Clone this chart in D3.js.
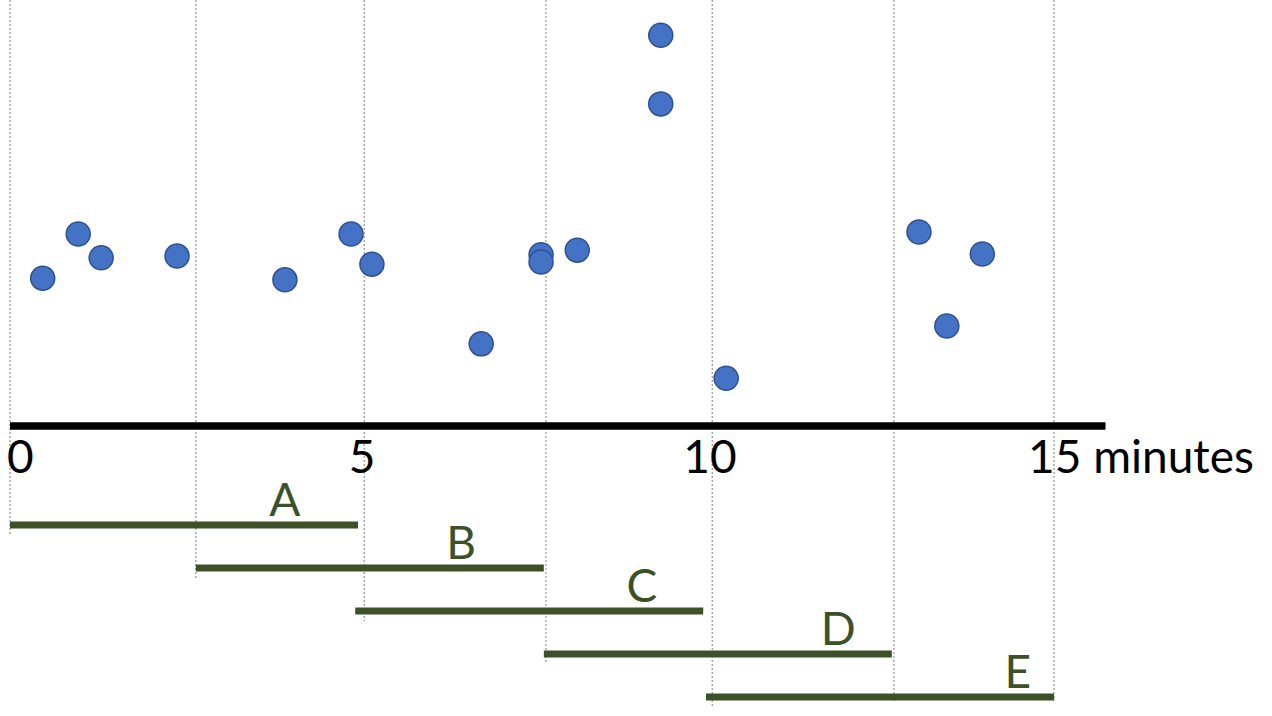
<!DOCTYPE html>
<html>
<head>
<meta charset="utf-8">
<script src="https://cdn.jsdelivr.net/npm/d3@7"></script>
<style>
  html, body { margin: 0; padding: 0; background: #fff; }
  svg { display: block; }
</style>
</head>
<body>
<div id="chart"></div>
<script>
// observations: minute, level
var obsMinutes = [0.47, 0.98, 1.31, 2.40, 3.95, 4.90, 5.20, 6.77, 7.63, 7.63, 8.15, 9.35, 9.35, 10.29, 13.06, 13.46, 13.97];
var obsValues  = [34.4, 44.8, 39.2, 39.6, 34.0, 44.8, 37.7, 18.9, 39.9, 38.2, 41.0, 91.7, 75.5, 10.8, 45.3, 23.1, 40.1];

// windows
var windowNames = ['A', 'B', 'C', 'D', 'E'];
var windowStart = [0, 2.67, 4.96, 7.67, 10.0];
var windowLength = 5;
var windowLabelAt = [3.95, 6.48, 9.08, 11.9, 14.48];

var gridMinutes = [0, 2.67, 5.09, 7.7, 10.09, 12.7, 15];
var tickValues = [0, 5, 10, 15];
var tickLabels = ['0', '5', '10', '15 minutes'];

var width = 1272, height = 716;
var green = '#3d5128';

var svg = d3.select('#chart').append('svg')
    .attr('width', width)
    .attr('height', height);

var x = d3.scaleLinear().domain([0, 15]).range([10, 1054]);
var y = d3.scaleLinear().domain([0, 100]).range([424, 0]);
var lane = d3.scalePoint().domain(windowNames).range([525, 697]);

// dotted guides
svg.append('g').selectAll('line').data(gridMinutes)
  .enter().append('line')
    .attr('x1', function(d){ return x(d); })
    .attr('x2', function(d){ return x(d); })
    .attr('y1', 0)
    .attr('y2', function(d){
      var i = windowStart.findIndex(function(s){ return Math.abs(s - d) < 0.2; });
      return i >= 0 ? lane(windowNames[i]) + 10 : 701;
    })
    .attr('stroke', '#9a9a9a')
    .attr('stroke-width', 1.3)
    .attr('stroke-dasharray', '2,2');

// axis line
svg.append('line')
    .attr('x1', x(0)).attr('x2', x(15.74))
    .attr('y1', 426).attr('y2', 426)
    .attr('stroke', '#000')
    .attr('stroke-width', 7.5);

// tick labels
svg.append('g').selectAll('text').data(tickValues)
  .enter().append('text')
    .attr('x', function(d, i){
      if (i === 0) return x(d) - 3;
      if (i === tickValues.length - 1) return x(d) - 26;
      return x(d) + 4;
    })
    .attr('y', 473)
    .attr('text-anchor', function(d, i){
      return (i === 0 || i === tickValues.length - 1) ? 'start' : 'middle';
    })
    .attr('font-family', 'Lato, sans-serif')
    .attr('font-size', 46)
    .attr('fill', '#000')
    .text(function(d, i){ return tickLabels[i]; });

// window bars
svg.append('g').selectAll('line').data(windowNames)
  .enter().append('line')
    .attr('x1', function(d, i){ return x(windowStart[i]); })
    .attr('x2', function(d, i){ return x(windowStart[i] + windowLength); })
    .attr('y1', function(d){ return lane(d); })
    .attr('y2', function(d){ return lane(d); })
    .attr('stroke', green)
    .attr('stroke-width', 7);

svg.append('g').selectAll('text').data(windowNames)
  .enter().append('text')
    .attr('x', function(d, i){ return x(windowLabelAt[i]); })
    .attr('y', function(d){ return lane(d) - 9; })
    .attr('text-anchor', 'middle')
    .attr('font-family', 'Lato, sans-serif')
    .attr('font-size', 46)
    .attr('fill', green)
    .text(function(d){ return d; });

// dots
svg.append('g').selectAll('circle').data(obsMinutes)
  .enter().append('circle')
    .attr('cx', function(d){ return x(d); })
    .attr('cy', function(d, i){ return y(obsValues[i]); })
    .attr('r', 12)
    .attr('fill', '#4472c4')
    .attr('stroke', '#2f528f')
    .attr('stroke-width', 1.5);
</script>
</body>
</html>
